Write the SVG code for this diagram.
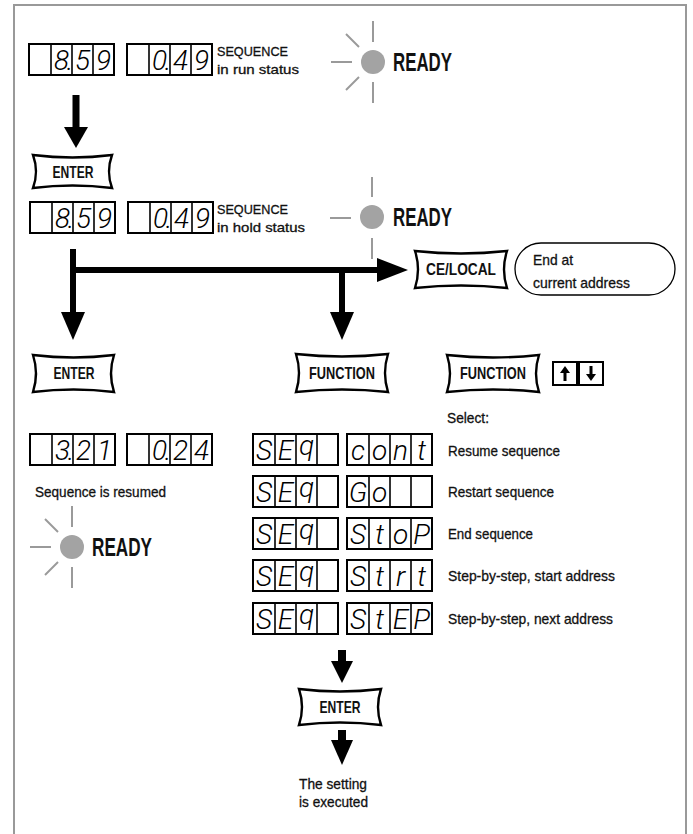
<svg xmlns="http://www.w3.org/2000/svg" width="693" height="834" viewBox="0 0 693 834">
<defs>
<style>
.frame{fill:none;stroke:#999;stroke-width:2}
.disp{fill:#fff;stroke:#000;stroke-width:2}
.div{stroke:#000;stroke-width:1.6}
.seg{font-family:Roboto,'DejaVu Sans',sans-serif;font-weight:300;font-style:italic;font-size:28px;fill:#000;text-anchor:middle}
.dot{font-weight:bold}
.lbl{font-family:'Liberation Sans Narrow','Liberation Sans',Arial,sans-serif;font-size:15px;fill:#111;stroke:#111;stroke-width:0.3}
.sm{font-size:13px}
.ready{font-family:'Liberation Sans Narrow','Liberation Sans',Arial,sans-serif;font-size:25px;font-weight:bold;fill:#111}
.key{fill:#fff;stroke:#000;stroke-width:2.4;stroke-linejoin:miter}
.keyt{font-family:'Liberation Sans Narrow','Liberation Sans',Arial,sans-serif;font-size:16.5px;font-weight:bold;fill:#111;text-anchor:middle}
.lamp{fill:#a3a3a3}
.ray{stroke:#9a9a9a;stroke-width:2;fill:none}
.line{stroke:#000;stroke-width:6;fill:none}
.head{fill:#000}
</style>
<g id="disp4">
<rect class="disp" x="0" y="0" width="85" height="31"/>
<line class="div" x1="22" y1="0" x2="22" y2="31"/>
<line class="div" x1="43" y1="0" x2="43" y2="31"/>
<line class="div" x1="64" y1="0" x2="64" y2="31"/>
</g>
<g id="rays">
<line class="ray" x1="0" y1="-41" x2="0" y2="-20"/>
<line class="ray" x1="0" y1="20" x2="0" y2="41"/>
<line class="ray" x1="-42" y1="0" x2="-21" y2="0"/>
<line class="ray" x1="-27" y1="-28" x2="-14" y2="-15"/>
<line class="ray" x1="-14" y1="15" x2="-27" y2="28"/>
</g>
</defs>
<rect width="693" height="834" fill="#fff"/>
<path class="frame" d="M14,834 V5 H686 V834"/>

<g id="connectors">
<rect class="head" x="72.5" y="95" width="7" height="34"/>
<polygon class="head" points="64,127 88,127 76,148"/>
<polyline class="line" points="73,249 73,315"/>
<polyline class="line" points="70,270 380,270"/>
<polyline class="line" points="342,270 342,316"/>
<polygon class="head" points="61,312 85,312 73,340"/>
<polygon class="head" points="330,312 354,312 342,340"/>
<polygon class="head" points="377,258 408,270 377,282"/>
<rect class="head" x="338" y="650" width="8" height="13"/>
<polygon class="head" points="331,661 353,661 342,683"/>
<rect class="head" x="338" y="730" width="8" height="12"/>
<polygon class="head" points="331,740 353,740 342,765"/>
</g>

<g id="row1-display">
<use href="#disp4" x="29" y="44"/>
<use href="#disp4" x="127" y="44"/>
<text class="seg" x="61.5 70 82.5 103.5" y="70">8.59</text>
<text class="seg" x="159.5 168 180.5 201.5" y="70">0.49</text>
<text class="lbl sm" x="217" y="56" textLength="71" lengthAdjust="spacingAndGlyphs">SEQUENCE</text>
<text class="lbl sm" x="217" y="74" textLength="82" lengthAdjust="spacingAndGlyphs">in run status</text>
</g>
<g id="ready1">
<use href="#rays" x="373" y="62"/>
<circle class="lamp" cx="373" cy="62" r="12"/>
<text class="ready" x="393" y="71" textLength="59" lengthAdjust="spacingAndGlyphs">READY</text>
</g>

<g id="enter1">
<path class="key" d="M33,155 Q72.5,160 112,155 Q106,171.5 112,188 Q72.5,183 33,188 Q39,171.5 33,155 Z"/>
<text class="keyt" x="73" y="178" textLength="41" lengthAdjust="spacingAndGlyphs">ENTER</text>
</g>

<g id="row2-display">
<use href="#disp4" x="30" y="202"/>
<use href="#disp4" x="128" y="202"/>
<text class="seg" x="62.5 71 83.5 104.5" y="228">8.59</text>
<text class="seg" x="160.5 169 181.5 202.5" y="228">0.49</text>
<text class="lbl sm" x="217" y="214" textLength="71" lengthAdjust="spacingAndGlyphs">SEQUENCE</text>
<text class="lbl sm" x="217" y="232" textLength="88" lengthAdjust="spacingAndGlyphs">in hold status</text>
</g>
<g id="ready2">
<line class="ray" x1="372" y1="177" x2="372" y2="197"/>
<line class="ray" x1="372" y1="238" x2="372" y2="259"/>
<line class="ray" x1="330" y1="218" x2="351" y2="218"/>
<circle class="lamp" cx="372" cy="217" r="12"/>
<text class="ready" x="393" y="226" textLength="59" lengthAdjust="spacingAndGlyphs">READY</text>
</g>

<g id="celocal">
<path class="key" d="M415,251 Q461,256 507,251 Q501,269.5 507,288 Q461,283 415,288 Q421,269.5 415,251 Z"/>
<text class="keyt" x="461" y="275" textLength="70" lengthAdjust="spacingAndGlyphs">CE/LOCAL</text>
</g>
<g id="end-note">
<rect x="515" y="243" width="160" height="52" rx="26" ry="26" fill="#fff" stroke="#000" stroke-width="1.3"/>
<text class="lbl" x="533" y="265" textLength="40" lengthAdjust="spacingAndGlyphs">End at</text>
<text class="lbl" x="533" y="288" textLength="97" lengthAdjust="spacingAndGlyphs">current address</text>
</g>

<g id="enter2">
<path class="key" d="M33,355 Q73.5,360 114,355 Q108,373.5 114,392 Q73.5,387 33,392 Q39,373.5 33,355 Z"/>
<text class="keyt" x="74" y="379" textLength="41" lengthAdjust="spacingAndGlyphs">ENTER</text>
</g>
<g id="function1">
<path class="key" d="M296,354 Q342,359 388,354 Q382,373 388,392 Q342,387 296,392 Q302,373 296,354 Z"/>
<text class="keyt" x="342" y="379" textLength="66" lengthAdjust="spacingAndGlyphs">FUNCTION</text>
</g>
<g id="function2">
<path class="key" d="M447,355 Q493,360 539,355 Q533,373.5 539,392 Q493,387 447,392 Q453,373.5 447,355 Z"/>
<text class="keyt" x="493" y="379" textLength="66" lengthAdjust="spacingAndGlyphs">FUNCTION</text>
</g>
<g id="updown">
<rect x="553" y="362" width="24" height="23" fill="#fff" stroke="#000" stroke-width="2"/>
<rect x="579" y="362" width="24" height="23" fill="#fff" stroke="#000" stroke-width="2"/>
<rect x="563.5" y="371" width="3" height="10" fill="#000"/>
<polygon points="560,373 570,373 565,366" fill="#000"/>
<rect x="589.5" y="366" width="3" height="10" fill="#000"/>
<polygon points="586,374 596,374 591,381" fill="#000"/>
</g>
<text id="select" class="lbl" x="447" y="423" textLength="42" lengthAdjust="spacingAndGlyphs">Select:</text>

<g id="row3-display">
<use href="#disp4" x="30" y="434"/>
<use href="#disp4" x="127" y="434"/>
<text class="seg" x="62.5 71 83.5 104.5" y="460">3.21</text>
<text class="seg" x="159.5 168 180.5 201.5" y="460">0.24</text>
<text class="lbl" x="35" y="497" textLength="131" lengthAdjust="spacingAndGlyphs">Sequence is resumed</text>
</g>
<g id="ready3">
<use href="#rays" x="72" y="547"/>
<circle class="lamp" cx="72" cy="547" r="12"/>
<text class="ready" x="92" y="556" textLength="60" lengthAdjust="spacingAndGlyphs">READY</text>
</g>

<g id="seq-cont">
<use href="#disp4" x="253" y="434"/>
<use href="#disp4" x="347" y="434"/>
<text class="seg" x="264 285.5 306.5" y="460 460 455">SEq</text>
<text class="seg" x="358 379.5 400.5 421.5" y="460">cont</text>
<text class="lbl" x="448" y="456" textLength="112" lengthAdjust="spacingAndGlyphs">Resume sequence</text>
</g>
<g id="seq-go">
<use href="#disp4" x="253" y="476"/>
<use href="#disp4" x="347" y="476"/>
<text class="seg" x="264 285.5 306.5" y="502 502 497">SEq</text>
<text class="seg" x="358 379.5" y="502">Go</text>
<text class="lbl" x="448" y="497" textLength="106" lengthAdjust="spacingAndGlyphs">Restart sequence</text>
</g>
<g id="seq-stop">
<use href="#disp4" x="253" y="518"/>
<use href="#disp4" x="347" y="518"/>
<text class="seg" x="264 285.5 306.5" y="544 544 539">SEq</text>
<text class="seg" x="358 379.5 400.5 421.5" y="544">StoP</text>
<text class="lbl" x="448" y="539" textLength="85" lengthAdjust="spacingAndGlyphs">End sequence</text>
</g>
<g id="seq-strt">
<use href="#disp4" x="253" y="560"/>
<use href="#disp4" x="347" y="560"/>
<text class="seg" x="264 285.5 306.5" y="586 586 581">SEq</text>
<text class="seg" x="358 379.5 400.5 421.5" y="586">Strt</text>
<text class="lbl" x="448" y="581" textLength="167" lengthAdjust="spacingAndGlyphs">Step-by-step, start address</text>
</g>
<g id="seq-step">
<use href="#disp4" x="253" y="603"/>
<use href="#disp4" x="347" y="603"/>
<text class="seg" x="264 285.5 306.5" y="629 629 624">SEq</text>
<text class="seg" x="358 379.5 400.5 421.5" y="629">StEP</text>
<text class="lbl" x="448" y="624" textLength="165" lengthAdjust="spacingAndGlyphs">Step-by-step, next address</text>
</g>

<g id="enter3">
<path class="key" d="M299,689 Q340,694 381,689 Q375,707 381,725 Q340,720 299,725 Q305,707 299,689 Z"/>
<text class="keyt" x="340" y="713" textLength="41" lengthAdjust="spacingAndGlyphs">ENTER</text>
</g>
<g id="result">
<text class="lbl" x="299" y="789" textLength="68" lengthAdjust="spacingAndGlyphs">The setting</text>
<text class="lbl" x="299" y="807" textLength="69" lengthAdjust="spacingAndGlyphs">is executed</text>
</g>
</svg>
